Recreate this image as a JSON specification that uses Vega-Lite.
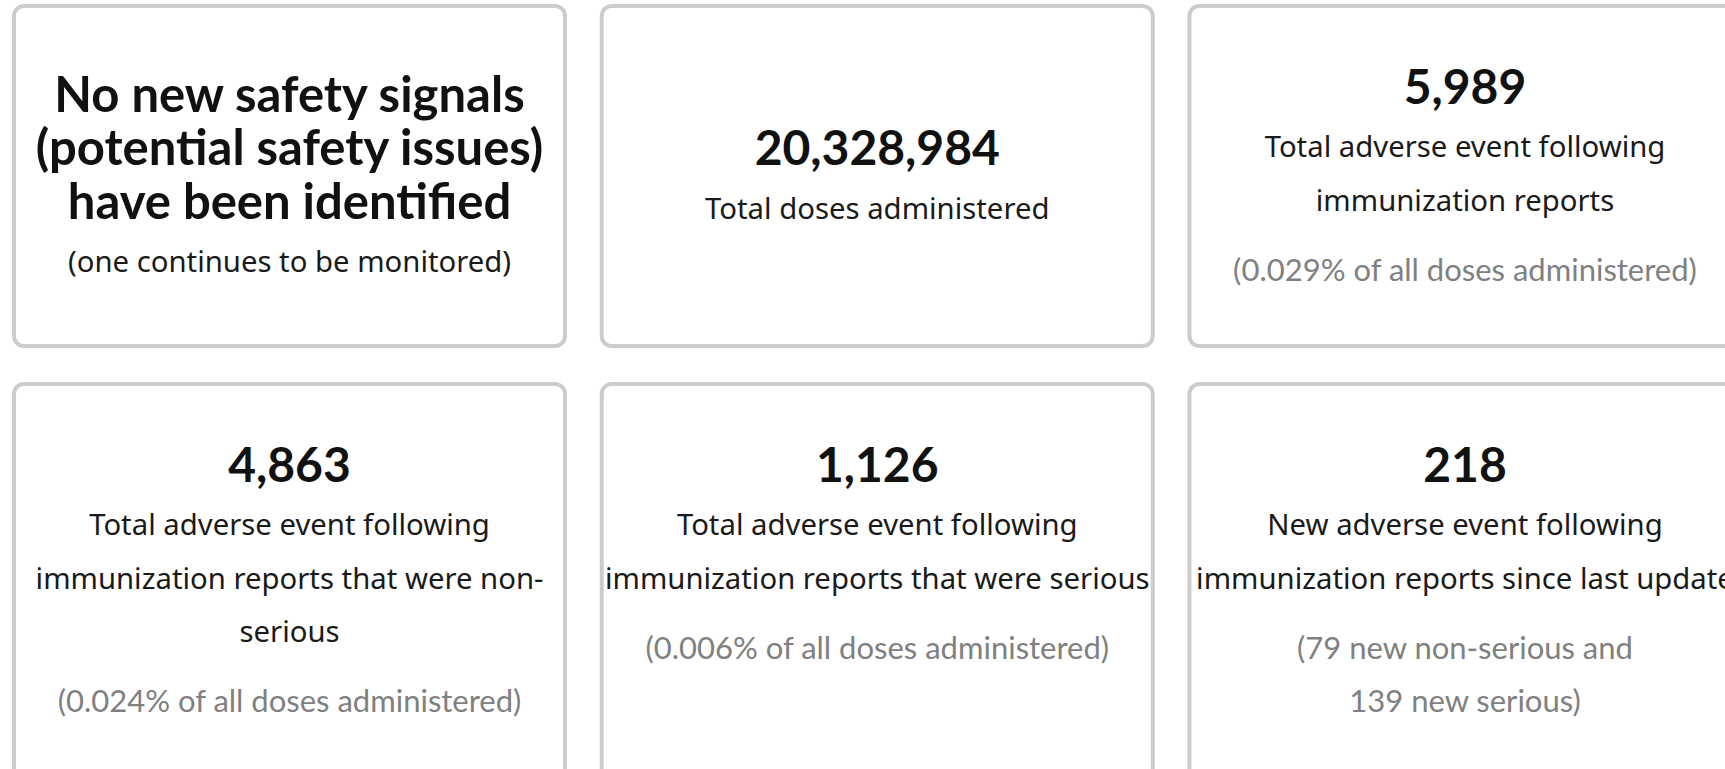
{
  "$schema": "https://vega.github.io/schema/vega-lite/v6.json",
  "padding": {"left": 0, "top": 4, "right": 0, "bottom": 0},
  "background": "white",
  "config": {"view": {"stroke": null}},
  "spacing": 34,
  "data": {"values": [
    {"row": 1, "col": 1, "order": 1, "kind": "heading", "text": "No new safety signals"},
    {"row": 1, "col": 1, "order": 2, "kind": "heading", "text": "(potential safety issues)"},
    {"row": 1, "col": 1, "order": 3, "kind": "heading", "text": "have been identified"},
    {"row": 1, "col": 1, "order": 4, "kind": "label", "text": "(one continues to be monitored)"},
    {"row": 1, "col": 2, "order": 2, "kind": "value", "text": "20,328,984"},
    {"row": 1, "col": 2, "order": 3, "kind": "label", "text": "Total doses administered"},
    {"row": 1, "col": 3, "order": 1, "kind": "value", "text": "5,989"},
    {"row": 1, "col": 3, "order": 2, "kind": "label", "text": "Total adverse event following"},
    {"row": 1, "col": 3, "order": 3, "kind": "label", "text": "immunization reports"},
    {"row": 1, "col": 3, "order": 4, "kind": "note", "text": "(0.029% of all doses administered)"},
    {"row": 2, "col": 1, "order": 1, "kind": "value", "text": "4,863"},
    {"row": 2, "col": 1, "order": 2, "kind": "label", "text": "Total adverse event following"},
    {"row": 2, "col": 1, "order": 3, "kind": "label", "text": "immunization reports that were non-"},
    {"row": 2, "col": 1, "order": 4, "kind": "label", "text": "serious"},
    {"row": 2, "col": 1, "order": 5, "kind": "note", "text": "(0.024% of all doses administered)"},
    {"row": 2, "col": 2, "order": 1, "kind": "value", "text": "1,126"},
    {"row": 2, "col": 2, "order": 2, "kind": "label", "text": "Total adverse event following"},
    {"row": 2, "col": 2, "order": 3, "kind": "label", "text": "immunization reports that were serious"},
    {"row": 2, "col": 2, "order": 4, "kind": "note", "text": "(0.006% of all doses administered)"},
    {"row": 2, "col": 3, "order": 1, "kind": "value", "text": "218"},
    {"row": 2, "col": 3, "order": 2, "kind": "label", "text": "New adverse event following"},
    {"row": 2, "col": 3, "order": 3, "kind": "label", "text": "immunization reports since last update"},
    {"row": 2, "col": 3, "order": 4, "kind": "note", "text": "(79 new non-serious and"},
    {"row": 2, "col": 3, "order": 5, "kind": "note", "text": "139 new serious)"}
  ]},
  "vconcat": [
    {
      "width": 1725,
      "height": 344,
      "transform": [{"filter": "datum.row == 1"}],
      "resolve": {"scale": {"y": "independent"}},
      "encoding": {
        "x": {"field": "col", "type": "ordinal", "axis": null,
              "scale": {"type": "band", "domain": [1, 2, 3], "range": [14, 1740.5], "paddingInner": 0.0625, "paddingOuter": 0}}
      },
      "layer": [
        {
          "transform": [{"aggregate": [{"op": "count", "as": "n"}], "groupby": ["row", "col"]}],
          "mark": {"type": "rect", "fill": "white", "stroke": "#cccccc", "strokeWidth": 4, "cornerRadius": 10, "clip": true},
          "encoding": {
            "y": {"field": "row", "type": "ordinal", "axis": null, "scale": {"type": "band", "range": [2, 342], "paddingInner": 0, "paddingOuter": 0}}
          }
        },
        {
          "transform": [{"filter": "datum.kind == 'heading'"}],
          "mark": {"type": "text", "font": "Lato", "fontWeight": "bold", "fontSize": 49, "align": "center", "baseline": "alphabetic", "dy": 8, "color": "#111111", "clip": true},
          "encoding": {
            "y": {"field": "order", "type": "quantitative", "axis": null, "scale": {"domain": [0, 10], "range": [46, 581]}},
            "text": {"field": "text"}
          }
        },
        {
          "transform": [{"filter": "datum.kind == 'value' && datum.col != 3"}],
          "mark": {"type": "text", "font": "Lato", "fontWeight": "bold", "fontSize": 48, "align": "center", "baseline": "alphabetic", "dy": 8, "color": "#111111", "clip": true},
          "encoding": {
            "y": {"field": "order", "type": "quantitative", "axis": null, "scale": {"domain": [0, 10], "range": [46, 581]}},
            "text": {"field": "text"}
          }
        },
        {
          "transform": [{"filter": "datum.kind == 'value' && datum.col == 3"}],
          "mark": {"type": "text", "font": "Lato", "fontWeight": "bold", "fontSize": 48, "align": "center", "baseline": "alphabetic", "dy": 0, "color": "#111111", "clip": true},
          "encoding": {
            "y": {"field": "order", "type": "quantitative", "axis": null, "scale": {"domain": [0, 10], "range": [46, 581]}},
            "text": {"field": "text"}
          }
        },
        {
          "transform": [{"filter": "datum.kind == 'label' && datum.col != 3"}],
          "mark": {"type": "text", "font": "Noto Sans", "fontSize": 29.3, "align": "center", "baseline": "alphabetic", "dy": 8, "color": "#1a1a1a", "clip": true},
          "encoding": {
            "y": {"field": "order", "type": "quantitative", "axis": null, "scale": {"domain": [0, 10], "range": [46, 581]}},
            "text": {"field": "text"}
          }
        },
        {
          "transform": [{"filter": "datum.kind == 'label' && datum.col == 3"}],
          "mark": {"type": "text", "font": "Noto Sans", "fontSize": 29.3, "align": "center", "baseline": "alphabetic", "dy": 0, "color": "#1a1a1a", "clip": true},
          "encoding": {
            "y": {"field": "order", "type": "quantitative", "axis": null, "scale": {"domain": [0, 10], "range": [46, 581]}},
            "text": {"field": "text"}
          }
        },
        {
          "transform": [{"filter": "datum.kind == 'note'"}],
          "mark": {"type": "text", "font": "Lato", "fontSize": 31, "align": "center", "baseline": "alphabetic", "dy": 16.5, "color": "#808080", "clip": true},
          "encoding": {
            "y": {"field": "order", "type": "quantitative", "axis": null, "scale": {"domain": [0, 10], "range": [46, 581]}},
            "text": {"field": "text"}
          }
        }
      ]
    },
    {
      "width": 1725,
      "height": 387,
      "transform": [{"filter": "datum.row == 2"}],
      "resolve": {"scale": {"y": "independent"}},
      "encoding": {
        "x": {"field": "col", "type": "ordinal", "axis": null,
              "scale": {"type": "band", "domain": [1, 2, 3], "range": [14, 1740.5], "paddingInner": 0.0625, "paddingOuter": 0}}
      },
      "layer": [
        {
          "transform": [{"aggregate": [{"op": "count", "as": "n"}], "groupby": ["row", "col"]}],
          "mark": {"type": "rect", "fill": "white", "stroke": "#cccccc", "strokeWidth": 4, "cornerRadius": 10, "clip": true},
          "encoding": {
            "y": {"field": "row", "type": "ordinal", "axis": null, "scale": {"type": "band", "range": [2, 410], "paddingInner": 0, "paddingOuter": 0}}
          }
        },
        {
          "transform": [{"filter": "datum.kind == 'value'"}],
          "mark": {"type": "text", "font": "Lato", "fontWeight": "bold", "fontSize": 48, "align": "center", "baseline": "alphabetic", "dy": 0, "color": "#111111", "clip": true},
          "encoding": {
            "y": {"field": "order", "type": "quantitative", "axis": null, "scale": {"domain": [0, 10], "range": [46, 581]}},
            "text": {"field": "text"}
          }
        },
        {
          "transform": [{"filter": "datum.kind == 'label'"}],
          "mark": {"type": "text", "font": "Noto Sans", "fontSize": 29.3, "align": "center", "baseline": "alphabetic", "dy": 0, "color": "#1a1a1a", "clip": true},
          "encoding": {
            "y": {"field": "order", "type": "quantitative", "axis": null, "scale": {"domain": [0, 10], "range": [46, 581]}},
            "text": {"field": "text"}
          }
        },
        {
          "transform": [{"filter": "datum.kind == 'note'"}],
          "mark": {"type": "text", "font": "Lato", "fontSize": 31, "align": "center", "baseline": "alphabetic", "dy": 16.5, "color": "#808080", "clip": true},
          "encoding": {
            "y": {"field": "order", "type": "quantitative", "axis": null, "scale": {"domain": [0, 10], "range": [46, 581]}},
            "text": {"field": "text"}
          }
        }
      ]
    }
  ]
}
